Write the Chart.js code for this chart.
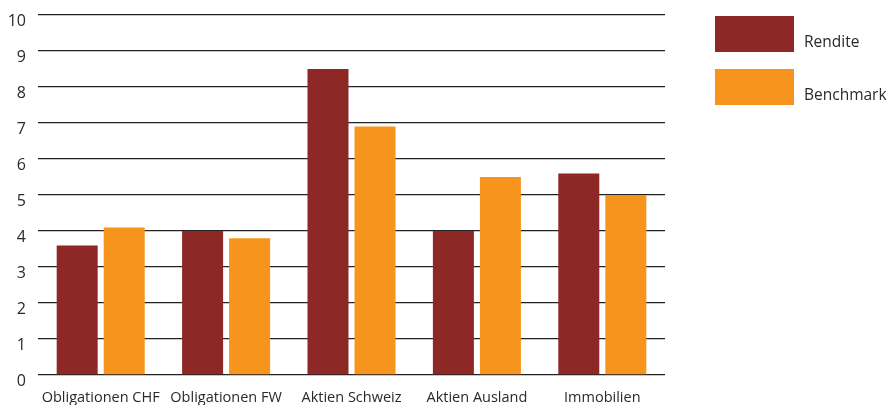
<!DOCTYPE html>
<html>
<head>
<meta charset="utf-8">
<script src="https://cdn.jsdelivr.net/npm/chart.js@4/dist/chart.umd.min.js"></script>
<style>
  html, body { margin: 0; padding: 0; background: #fff; }
  #wrap { width: 888px; height: 405px; position: relative; }
</style>
</head>
<body>
<div id="wrap"><canvas id="c" width="888" height="405"></canvas></div>
<script>
// Anlagekategorien und Renditen in Prozent
const categories = ['Obligationen CHF', 'Obligationen FW', 'Aktien Schweiz', 'Aktien Ausland', 'Immobilien'];
const rendite = [3.6, 4.0, 8.5, 4.0, 5.6];
const benchmark = [4.1, 3.8, 6.9, 5.5, 5.0];
const seriesNames = ['Rendite', 'Benchmark'];
const yTicks = [0, 1, 2, 3, 4, 5, 6, 7, 8, 9, 10];

const FONT = '"Open Sans", "Noto Sans", sans-serif';
const TEXT = '#2a2a2a';

// Legende rechts neben dem Diagramm: grosse Farbfelder, Text unten daneben
const sideLegend = {
  id: 'sideLegend',
  afterDraw(chart) {
    const ctx = chart.ctx;
    ctx.save();
    chart.data.datasets.forEach((ds, i) => {
      const x = 715, y = 16 + i * 53;
      ctx.fillStyle = ds.backgroundColor;
      ctx.fillRect(x, y, 79, 36);
      ctx.fillStyle = TEXT;
      ctx.font = '15.5px ' + FONT;
      ctx.textAlign = 'left';
      ctx.textBaseline = 'alphabetic';
      ctx.fillText(ds.label, 804, y + 31);
    });
    ctx.restore();
  }
};

new Chart(document.getElementById('c'), {
  type: 'bar',
  data: {
    labels: categories,
    datasets: [
      { label: seriesNames[0], data: rendite, backgroundColor: '#8E2826' },
      { label: seriesNames[1], data: benchmark, backgroundColor: '#F7941E' }
    ]
  },
  options: {
    responsive: false,
    animation: false,
    layout: { padding: { left: 0, right: 223, top: 15, bottom: 0 } },
    categoryPercentage: 0.75,
    barPercentage: 0.872,
    plugins: {
      legend: { display: false },
      tooltip: { enabled: false }
    },
    scales: {
      x: {
        grid: { display: false, drawTicks: false },
        border: { display: false },
        ticks: { color: TEXT, font: { family: FONT, size: 14.5 }, padding: 14, maxRotation: 0, autoSkip: false },
        afterFit(scale) { scale.height = 30; scale.paddingLeft = 0; scale.paddingRight = 0; }
      },
      y: {
        min: 0,
        max: 10,
        afterBuildTicks(scale) { scale.ticks = yTicks.map(v => ({ value: v })); },
        grid: { color: '#222222', lineWidth: 1.3, drawTicks: false },
        border: { display: false },
        ticks: { color: TEXT, font: { family: FONT, size: 16 }, padding: 12, labelOffset: 6 },
        afterFit(scale) { scale.width = 38; scale.paddingTop = 0; scale.paddingBottom = 0; }
      }
    }
  },
  plugins: [sideLegend]
});
</script>
</body>
</html>
